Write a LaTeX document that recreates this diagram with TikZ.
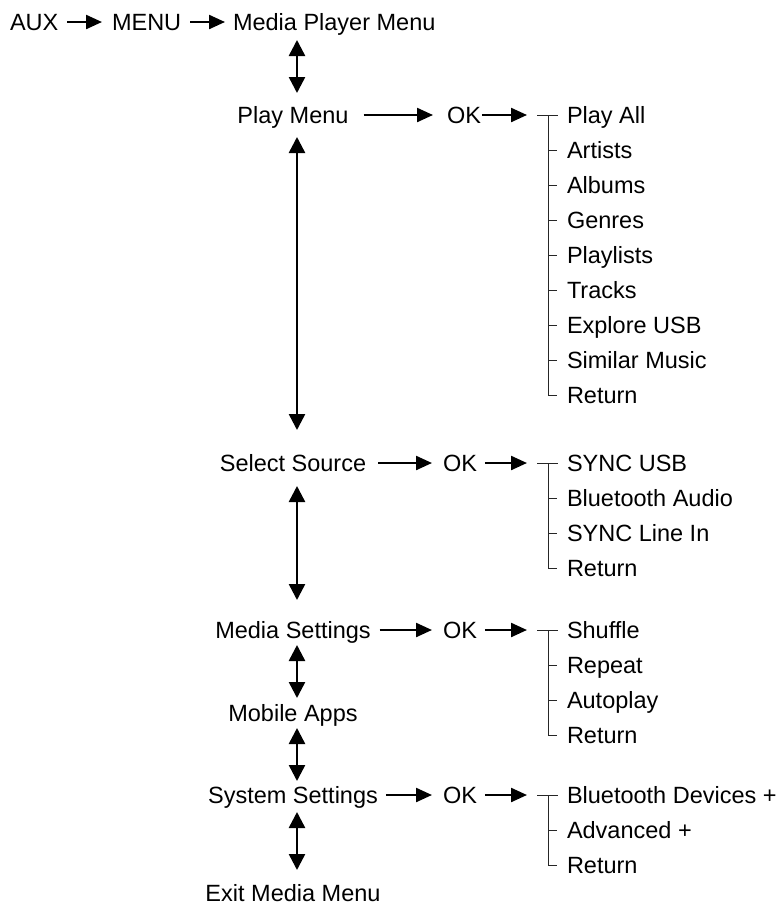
\documentclass[tikz,border=0pt]{standalone}
\usepackage{fontspec}
\setmainfont{Liberation Sans}
\usetikzlibrary{arrows.meta}
\begin{document}
\begin{tikzpicture}[x=1pt,y=-1pt,
  lbl/.style={inner sep=0pt,outer sep=0pt,text height=16.8pt,text depth=0pt,font=\fontsize{23.5}{27}\selectfont},
  harr/.style={line width=2.3pt,-{Triangle[length=16pt,width=14pt]}},
  varr/.style={line width=2.5pt,{Triangle[length=16pt,width=16pt]}-{Triangle[length=16pt,width=16pt]}},
  brk/.style={line width=1pt,black!85}]
\useasboundingbox (0,0) rectangle (782,905);

% top row
\node[lbl,anchor=west] (aux) at (10,22) {AUX};
\node[lbl,anchor=west] (menu) at (112,22) {MENU};
\node[lbl,anchor=west] (mpm) at (233,22) {Media Player Menu};
\draw[harr] ([xshift=9pt]aux.east) -- ([xshift=-10pt]menu.west);
\draw[harr] ([xshift=9pt]menu.east) -- ([xshift=-8pt]mpm.west);

% left column
\node[lbl] (pm) at (293,115) {Play Menu};
\node[lbl] (ss) at (293,463) {Select Source};
\node[lbl] (ms) at (293,630) {Media Settings};
\node[lbl] (ma) at (293,713) {Mobile Apps};
\node[lbl] (sys) at (293,795) {System Settings};
\node[lbl] (ex) at (293,893) {Exit Media Menu};

% vertical double arrows
\draw[varr] ([xshift=4pt,yshift=-9.6pt]pm.north |- mpm.south) -- ([xshift=4pt,yshift=13.6pt]pm.north);
\draw[varr] ([xshift=4pt,yshift=-13.6pt]pm.south) -- ([xshift=4pt,yshift=24.6pt]ss.north);
\draw[varr] ([xshift=4pt,yshift=-14.6pt]ss.south) -- ([xshift=4pt,yshift=21.6pt]ms.north);
\draw[varr] ([xshift=4pt,yshift=-6.6pt]ms.south) -- ([xshift=4pt,yshift=6.6pt]ma.north);
\draw[varr] ([xshift=4pt,yshift=-6.6pt]ma.south) -- ([xshift=4pt,yshift=5.6pt]sys.north);
\draw[varr] ([xshift=4pt,yshift=-8.6pt]sys.south) -- ([xshift=4pt,yshift=14.6pt]ex.north);

% OK nodes
\node[lbl,anchor=west] (ok1) at (447,115) {OK};
\node[lbl,anchor=west] (ok2) at (443,463) {OK};
\node[lbl,anchor=west] (ok3) at (443,630) {OK};
\node[lbl,anchor=west] (ok4) at (443,795) {OK};

% lists
\foreach \t [count=\i] in {Play All,Artists,Albums,Genres,Playlists,Tracks,Explore USB,Similar Music,Return}
  \node[lbl,anchor=west] (p\i) at (567,80+35*\i) {\t};
\foreach \t [count=\i] in {SYNC USB,Bluetooth Audio,SYNC Line In,Return}
  \node[lbl,anchor=west] (s\i) at (567,428+35*\i) {\t};
\foreach \t [count=\i] in {Shuffle,Repeat,Autoplay,Return}
  \node[lbl,anchor=west] (m\i) at (567,595+35*\i) {\t};
\foreach \t [count=\i] in {Bluetooth Devices +,Advanced +,Return}
  \node[lbl,anchor=west] (y\i) at (567,760+35*\i) {\t};

% horizontal arrows
\draw[harr] ([xshift=15pt]pm.east) -- ([xshift=-14pt]ok1.west);
\draw[harr] ([xshift=1pt]ok1.east) -- ([xshift=-40pt]p1.west);
\draw[harr] ([xshift=12pt]ss.east) -- ([xshift=-11pt]ok2.west);
\draw[harr] ([xshift=8pt]ok2.east) -- ([xshift=-40pt]s1.west);
\draw[harr] ([xshift=9pt]ms.east) -- ([xshift=-11pt]ok3.west);
\draw[harr] ([xshift=8pt]ok3.east) -- ([xshift=-40pt]m1.west);
\draw[harr] ([xshift=8pt]sys.east) -- ([xshift=-11pt]ok4.west);
\draw[harr] ([xshift=8pt]ok4.east) -- ([xshift=-40pt]y1.west);

% brackets
\foreach \a/\n in {p/9,s/4,m/4,y/3}{
  \draw[brk] ([xshift=-30pt]\a1.west) -- ([xshift=-9pt]\a1.west);
  \draw[brk] ([xshift=-19pt]\a1.west) -- ([xshift=-19pt]\a\n.west) -- ([xshift=-10pt]\a\n.west);
}
\foreach \i in {2,...,8} \draw[brk] ([xshift=-19pt]p\i.west) -- ([xshift=-10pt]p\i.west);
\foreach \i in {2,3} \draw[brk] ([xshift=-19pt]s\i.west) -- ([xshift=-10pt]s\i.west);
\foreach \i in {2,3} \draw[brk] ([xshift=-19pt]m\i.west) -- ([xshift=-10pt]m\i.west);
\draw[brk] ([xshift=-19pt]y2.west) -- ([xshift=-10pt]y2.west);
\end{tikzpicture}
\end{document}
